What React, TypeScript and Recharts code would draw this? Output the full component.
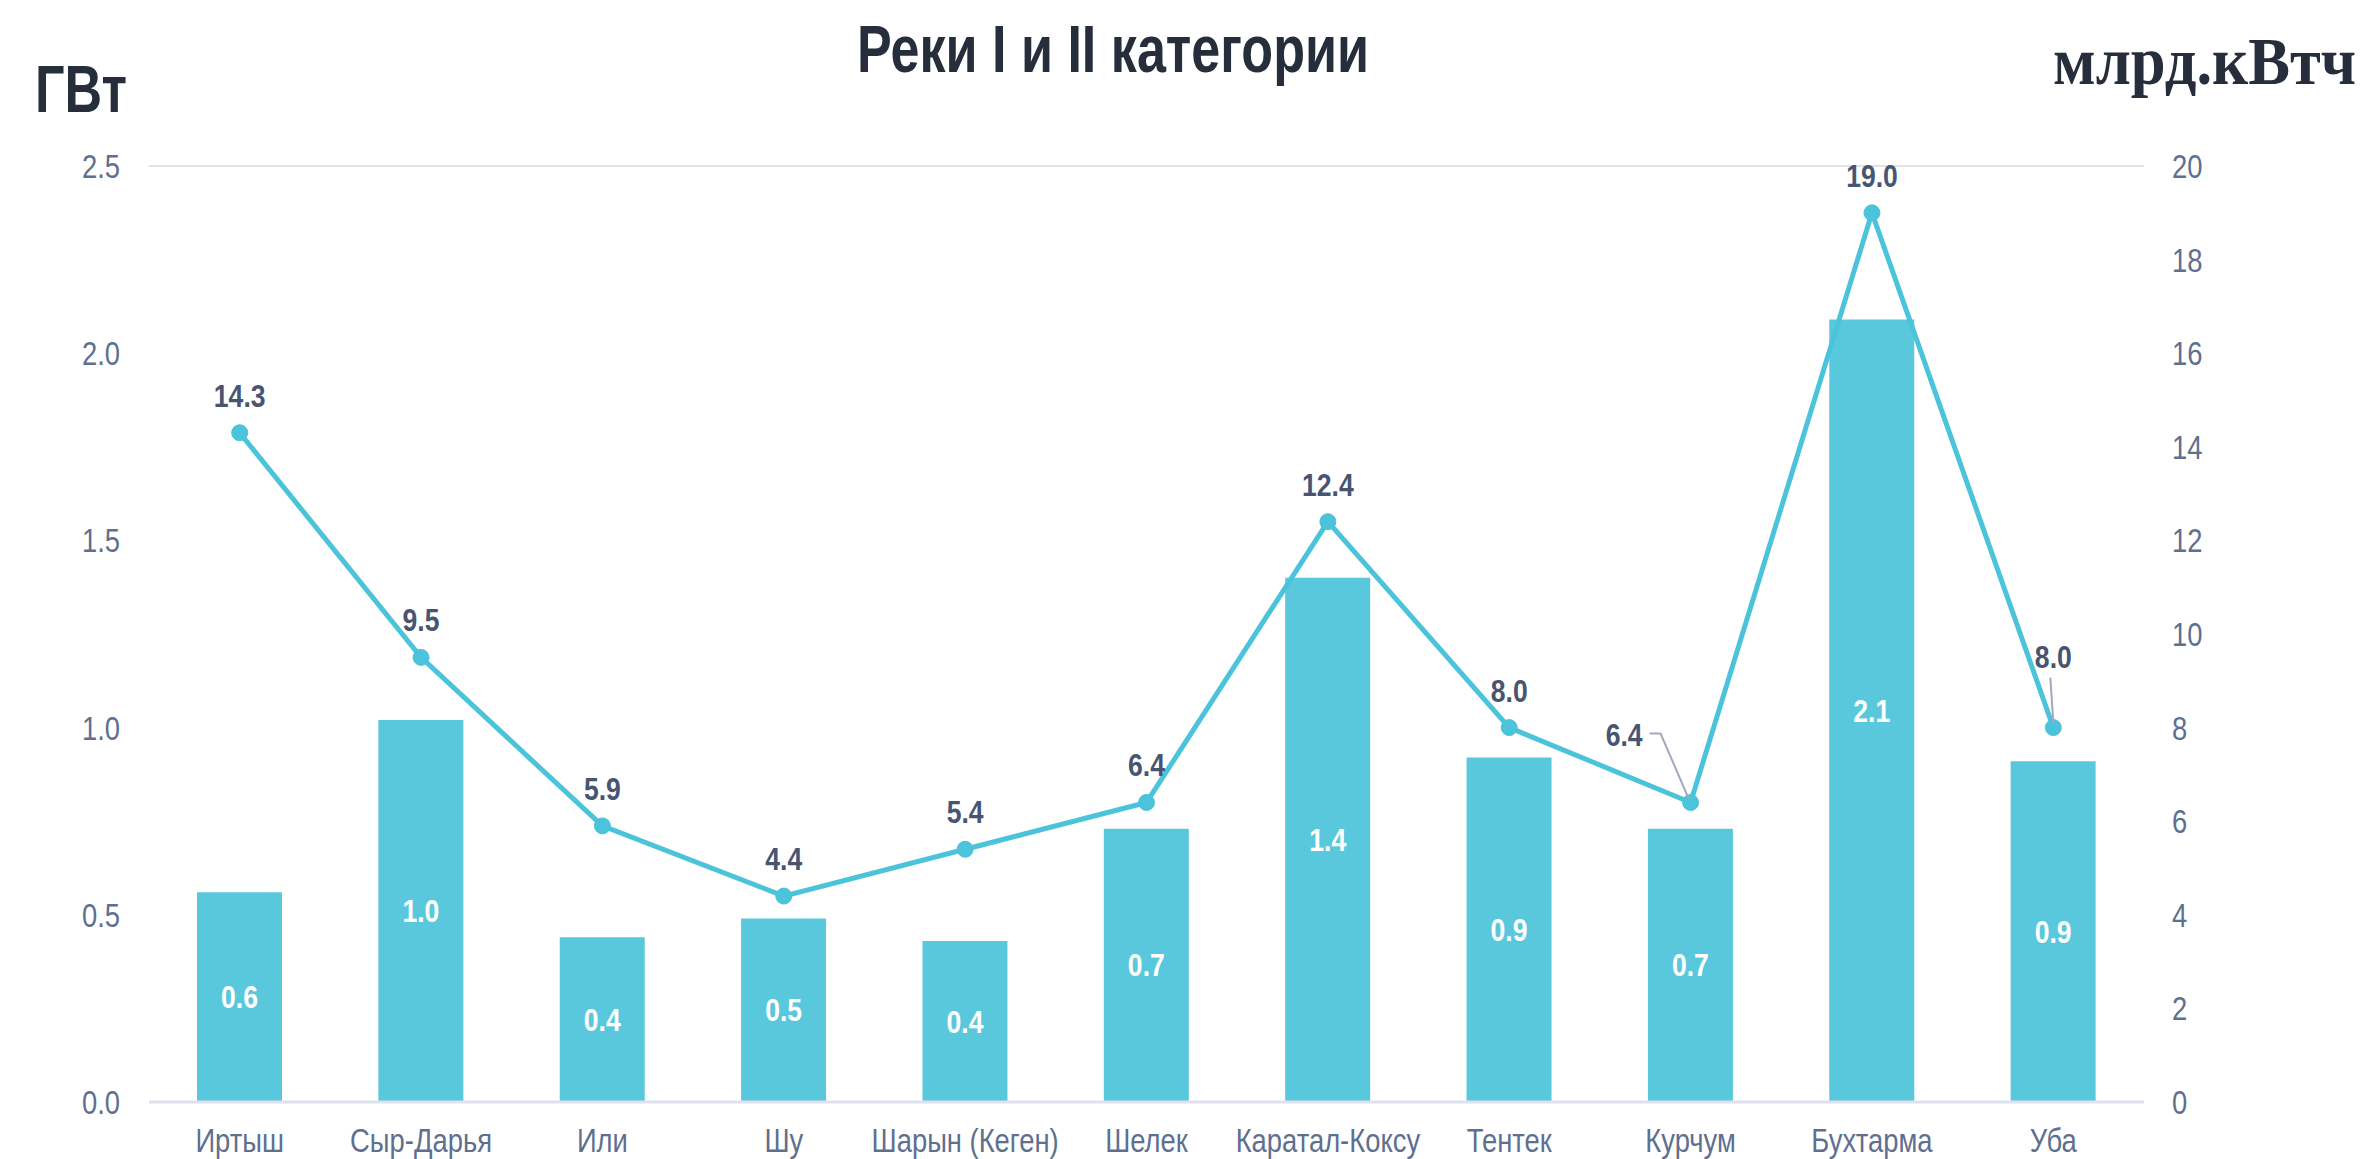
import React from 'react';
import { ComposedChart, Bar, Line, XAxis, YAxis, CartesianGrid, LabelList } from 'recharts';

const rivers = ['Иртыш', 'Сыр-Дарья', 'Или', 'Шу', 'Шарын (Кеген)', 'Шелек', 'Каратал-Коксу', 'Тентек', 'Курчум', 'Бухтарма', 'Уба'];
const capacityGW = [0.56, 1.02, 0.44, 0.49, 0.43, 0.73, 1.4, 0.92, 0.73, 2.09, 0.91];
const energyTWh = [14.3, 9.5, 5.9, 4.4, 5.4, 6.4, 12.4, 8.0, 6.4, 19.0, 8.0];
const leftTicks = [0, 0.5, 1.0, 1.5, 2.0, 2.5];
const rightTicks = [0, 2, 4, 6, 8, 10, 12, 14, 16, 18, 20];

const data = rivers.map((name, i) => ({ name, gw: capacityGW[i], twh: energyTWh[i] }));

const W = 2372;
const H = 1159;
const SANS = '"Liberation Sans", Arial, sans-serif';
const TICK_COLOR = '#5e6f8f';
const LABEL_COLOR = '#475572';
const BAR_COLOR = '#5ac8dc';
const LINE_COLOR = '#4bc3da';
const SX = 0.83;

const NText = ({ x, y, anchor, children, style }: any) => (
  <text transform={`translate(${x},${y}) scale(${SX},1)`} x={0} y={0} textAnchor={anchor} style={style}>{children}</text>
);

const tickStyle = { fontFamily: SANS, fontSize: 33, fill: TICK_COLOR } as any;

const XTick = (props: any) => {
  const { x, y, payload } = props;
  return <NText x={x} y={y + 24} anchor="middle" style={tickStyle}>{payload.value}</NText>;
};
const LeftTick = (props: any) => {
  const { x, y, payload } = props;
  return <NText x={x} y={y + 12} anchor="end" style={tickStyle}>{Number(payload.value).toFixed(1)}</NText>;
};
const RightTick = (props: any) => {
  const { x, y, payload } = props;
  return <NText x={x} y={y + 12} anchor="start" style={tickStyle}>{payload.value}</NText>;
};

const boldStyle = { fontFamily: SANS, fontWeight: 700, fontSize: 32, fill: LABEL_COLOR } as any;

const BarLabel = (props: any) => {
  const { x, y, width, height, value } = props;
  return (
    <NText x={x + width / 2} y={y + height / 2 + 11} anchor="middle" style={{ ...boldStyle, fill: '#ffffff' }}>
      {Number(value).toFixed(1)}
    </NText>
  );
};

const LineLabel = (props: any) => {
  const { x, y, value, index } = props;
  const txt = Number(value).toFixed(1);
  if (index === 8) {
    return (
      <g>
        <polyline points={`${x - 41},${y - 69} ${x - 30},${y - 69} ${x - 2},${y - 4}`} fill="none" stroke="#a3aabb" strokeWidth={2} />
        <NText x={x - 48} y={y - 56} anchor="end" style={boldStyle}>{txt}</NText>
      </g>
    );
  }
  if (index === 10) {
    return (
      <g>
        <line x1={x - 3} y1={y - 50} x2={x} y2={y - 5} stroke="#a3aabb" strokeWidth={2} />
        <NText x={x} y={y - 60} anchor="middle" style={boldStyle}>{txt}</NText>
      </g>
    );
  }
  return <NText x={x} y={y - 26} anchor="middle" style={boldStyle}>{txt}</NText>;
};

export default function App() {
  return (
    <div style={{ position: 'absolute', left: 0, top: 0, width: W, height: H, background: '#fff' }}>
      <ComposedChart
        width={W}
        height={H}
        data={data}
        margin={{ top: 166, right: 0, bottom: 0, left: 0 }}
      >
        <CartesianGrid vertical={false} stroke="#dfe2ec" strokeWidth={2} />
        <XAxis
          dataKey="name"
          height={57}
          tickSize={0}
          tickMargin={26}
          axisLine={{ stroke: '#dfe2ec', strokeWidth: 3 }}
          tickLine={false}
          interval={0}
          tick={XTick}
        />
        <YAxis
          yAxisId="left"
          orientation="left"
          width={149}
          domain={[0, 2.5]}
          ticks={leftTicks}
          axisLine={false}
          tickLine={false}
          tickSize={0}
          tickMargin={29}
          tick={LeftTick}
        />
        <YAxis
          yAxisId="right"
          orientation="right"
          width={228}
          domain={[0, 20]}
          ticks={rightTicks}
          axisLine={false}
          tickLine={false}
          tickSize={0}
          tickMargin={28}
          tick={RightTick}
        />
        <Bar yAxisId="left" dataKey="gw" fill={BAR_COLOR} barSize={85} isAnimationActive={false}>
          <LabelList dataKey="gw" content={BarLabel} />
        </Bar>
        <Line
          yAxisId="right"
          dataKey="twh"
          stroke={LINE_COLOR}
          strokeWidth={5}
          dot={{ r: 8, fill: LINE_COLOR, stroke: LINE_COLOR, strokeWidth: 1 }}
          activeDot={false}
          isAnimationActive={false}
        >
          <LabelList dataKey="twh" content={LineLabel} />
        </Line>
      </ComposedChart>
      <svg width={W} height={H} style={{ position: 'absolute', left: 0, top: 0, pointerEvents: 'none' }}>
        <text x={1113} y={72} textAnchor="middle" textLength={512} lengthAdjust="spacingAndGlyphs"
          style={{ fontFamily: SANS, fontWeight: 700, fontSize: 66, fill: '#262d3b' }}>Реки I и II категории</text>
        <text x={35} y={112} textLength={92} lengthAdjust="spacingAndGlyphs"
          style={{ fontFamily: SANS, fontWeight: 700, fontSize: 66, fill: '#262d3b' }}>ГВт</text>
        <g transform="translate(2053,84) scale(1,1.13)">
          <text x={0} y={0} textLength={303} lengthAdjust="spacingAndGlyphs"
            style={{ fontFamily: '"Liberation Serif", "Times New Roman", serif', fontWeight: 700, fontSize: 60, fill: '#262d3b' }}>млрд.кВтч</text>
        </g>
      </svg>
    </div>
  );
}
